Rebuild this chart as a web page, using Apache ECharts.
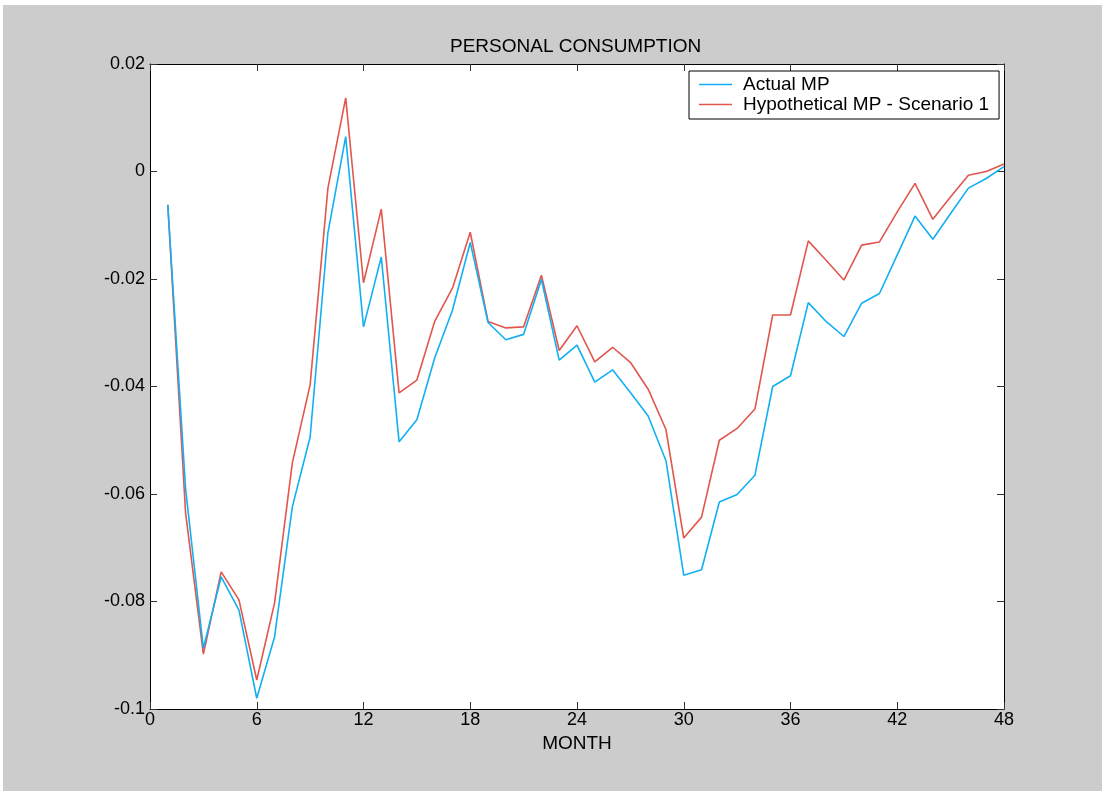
<!DOCTYPE html>
<html>
<head>
<meta charset="utf-8">
<script src="https://cdn.jsdelivr.net/npm/echarts@6/dist/echarts.min.js"></script>
<style>
  html, body { margin: 0; padding: 0; background: #ffffff; }
  #chart { position: absolute; left: 3px; top: 5px; width: 1099px; height: 786px; }
</style>
</head>
<body>
<div id="chart"></div>
<script>
// Months since the shock
const months = [1,2,3,4,5,6,7,8,9,10,11,12,13,14,15,16,17,18,19,20,21,22,23,24,
                25,26,27,28,29,30,31,32,33,34,35,36,37,38,39,40,41,42,43,44,45,46,47,48];

// Response of personal consumption, actual monetary policy path
const actualMP = [-0.0062,-0.0590,-0.0887,-0.0754,-0.0816,-0.0980,-0.0866,-0.0624,-0.0494,-0.0114,
                  0.0065,-0.0289,-0.0159,-0.0503,-0.0462,-0.0347,-0.0258,-0.0132,-0.0281,-0.0313,
                  -0.0303,-0.0201,-0.0351,-0.0323,-0.0392,-0.0369,-0.0411,-0.0455,-0.0538,-0.0751,
                  -0.0741,-0.0615,-0.0601,-0.0565,-0.0400,-0.0380,-0.0244,-0.0279,-0.0307,-0.0245,
                  -0.0227,-0.0155,-0.0083,-0.0126,-0.0078,-0.0031,-0.0013,0.0009];

// Response under the hypothetical policy path (scenario 1)
const hypotheticalMP = [-0.0062,-0.0635,-0.0898,-0.0745,-0.0797,-0.0946,-0.0803,-0.0542,-0.0397,-0.0031,
                        0.0137,-0.0207,-0.0070,-0.0412,-0.0388,-0.0279,-0.0217,-0.0113,-0.0279,-0.0291,
                        -0.0289,-0.0193,-0.0333,-0.0287,-0.0354,-0.0327,-0.0355,-0.0405,-0.0480,-0.0682,
                        -0.0643,-0.0500,-0.0478,-0.0442,-0.0267,-0.0267,-0.0129,-0.0165,-0.0202,-0.0137,
                        -0.0131,-0.0075,-0.0022,-0.0089,-0.0047,-0.0007,0.0000,0.0014];

const seriesNames = ['Actual MP', 'Hypothetical MP - Scenario 1'];
const xTicks = [0, 6, 12, 18, 24, 30, 36, 42, 48];
const yTicks = [-0.1, -0.08, -0.06, -0.04, -0.02, 0, 0.02];

const FONT = "'Liberation Sans', Arial, sans-serif";
const BLUE = '#12b0f2';
const RED = '#e2564e';
const LEGEND_LINE = 'path://M0,0 L33,0 L33,1.6 L0,1.6 Z';

function yLabel(v) {
  const r = Math.round(v * 100) / 100;
  return r === 0 ? '0' : String(r);
}

const chart = echarts.init(document.getElementById('chart'));

const tickCommon = { inside: true, length: 7, lineStyle: { color: '#333333', width: 1 } };
const lineCommon = { show: true, onZero: false, lineStyle: { color: '#000000', width: 1 } };

chart.setOption({
  backgroundColor: '#cccccc',
  animation: false,
  title: {
    text: 'PERSONAL CONSUMPTION',
    left: 442,
    top: 27,
    textStyle: { fontFamily: FONT, fontSize: 19, fontWeight: 'normal', color: '#000000' }
  },
  legend: {
    orient: 'vertical',
    left: 686,
    top: 66,
    padding: [4, 10, 5, 10],
    itemWidth: 33,
    itemHeight: 14,
    itemGap: 1,
    backgroundColor: '#ffffff',
    borderColor: '#000000',
    borderWidth: 1,
    borderRadius: 0,
    data: seriesNames.map(n => ({ name: n, icon: LEGEND_LINE })),
    textStyle: { fontFamily: FONT, fontSize: 19, color: '#000000', padding: [0, 0, 0, 6] }
  },
  grid: { left: 147, right: 98, top: 59, bottom: 82, show: true, backgroundColor: '#ffffff', borderWidth: 0 },
  xAxis: [{
    type: 'value', min: 0, max: 48, interval: 6,
    name: 'MONTH', nameLocation: 'middle', nameGap: 22,
    nameTextStyle: { fontFamily: FONT, fontSize: 19, color: '#000000' },
    axisLine: lineCommon, axisTick: tickCommon,
    axisLabel: { fontFamily: FONT, fontSize: 18, color: '#000000', margin: 2,
                 formatter: v => (xTicks.indexOf(v) >= 0 ? String(v) : '') },
    splitLine: { show: false }
  }, {
    type: 'value', min: 0, max: 48, interval: 6, position: 'top',
    axisLine: lineCommon, axisTick: tickCommon, axisLabel: { show: false }, splitLine: { show: false }
  }],
  yAxis: [{
    type: 'value', min: -0.1, max: 0.02, interval: 0.02,
    axisLine: lineCommon, axisTick: tickCommon,
    axisLabel: { fontFamily: FONT, fontSize: 18, color: '#000000', margin: 5, formatter: yLabel },
    splitLine: { show: false }
  }, {
    type: 'value', min: -0.1, max: 0.02, interval: 0.02, position: 'right',
    axisLine: lineCommon, axisTick: tickCommon, axisLabel: { show: false }, splitLine: { show: false }
  }],
  series: [{
    name: seriesNames[0], type: 'line', symbol: 'none', z: 3,
    lineStyle: { color: BLUE, width: 1.6 }, itemStyle: { color: BLUE },
    data: months.map((m, i) => [m, actualMP[i]])
  }, {
    name: seriesNames[1], type: 'line', symbol: 'none', z: 2,
    lineStyle: { color: RED, width: 1.6 }, itemStyle: { color: RED },
    data: months.map((m, i) => [m, hypotheticalMP[i]])
  }]
});
</script>
</body>
</html>
